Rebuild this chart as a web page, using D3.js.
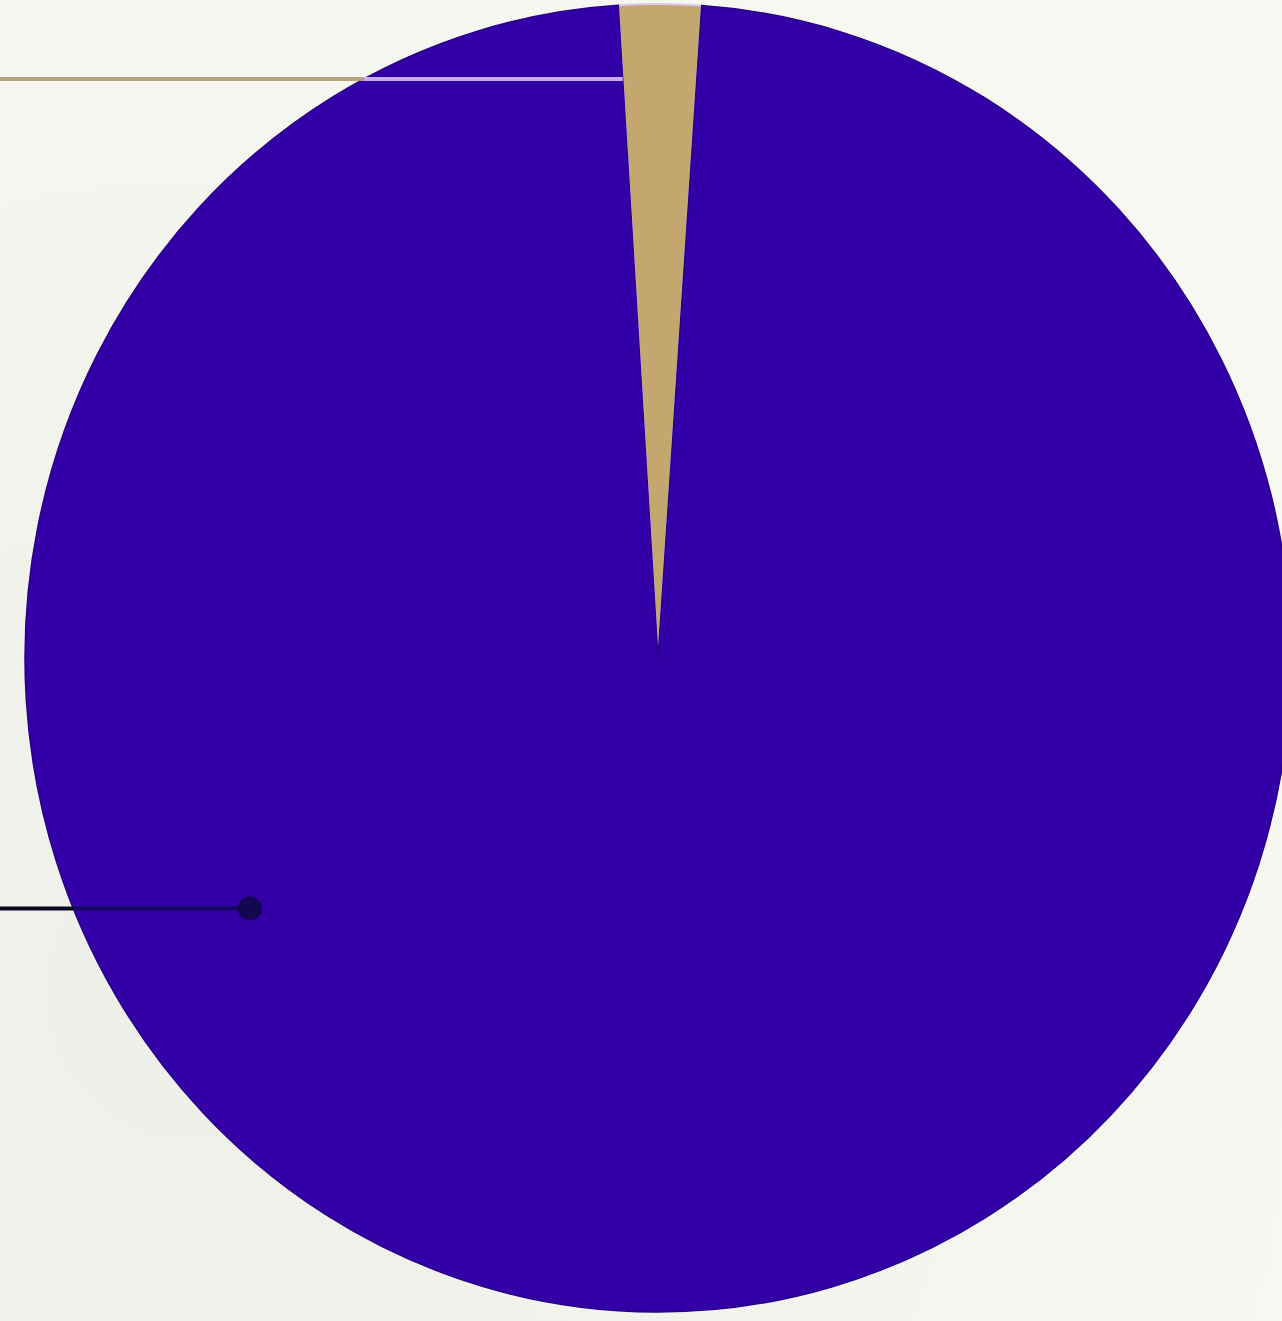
<!DOCTYPE html>
<html>
<head>
<meta charset="utf-8">
<script src="https://cdn.jsdelivr.net/npm/d3@7"></script>
<style>
  html, body { margin: 0; padding: 0; background: #f5f5ee; }
  svg { display: block; }
</style>
</head>
<body>
<svg id="chart" width="1282" height="1321"></svg>
<script>
// ---- data ----
const categories = ["Minor share", "Major share"];
const values = [2.1, 97.9];
const colors = ["#c4a66f", "#3300a8"];

// ---- layout ----
const W = 1282, H = 1321;
const cx = 658, cy = 658;
const rx = 633, ry = 654;
const startDeg = -3.6;

const svg = d3.select("#chart");

// background with subtle marble-like gradient
const defs = svg.append("defs");
const bg = defs.append("radialGradient").attr("id", "bg").attr("cx", "15%").attr("cy", "75%").attr("r", "90%");
bg.append("stop").attr("offset", "0%").attr("stop-color", "#efefe9");
bg.append("stop").attr("offset", "100%").attr("stop-color", "#f8f8f2");
svg.append("rect").attr("width", W).attr("height", H).attr("fill", "url(#bg)");

const pie = d3.pie().sort(null).value(d => d)
  .startAngle(startDeg * Math.PI / 180)
  .endAngle(startDeg * Math.PI / 180 + 2 * Math.PI);
const arcs = pie(values);
const arc = d3.arc().innerRadius(0).outerRadius(rx);

const g = svg.append("g").attr("transform", `translate(${cx},${cy}) scale(1,${ry / rx})`);

g.selectAll("path.slice")
  .data(arcs)
  .join("path")
  .attr("class", "slice")
  .attr("d", arc)
  .attr("fill", (d, i) => colors[i])
  .attr("stroke", (d, i) => i === 0 ? "#dcc8ea" : "#2a0088")
  .attr("stroke-width", (d, i) => i === 0 ? 2 : 1.5)
  .attr("vector-effect", "non-scaling-stroke");

// helper: screen x of ellipse edge at a given screen y (left side)
function edgeLeftX(y) {
  const t = (y - cy) / ry;
  return cx - rx * Math.sqrt(Math.max(0, 1 - t * t));
}

// ---- leader for the small slice ----
const tanY = 79;
const a0 = arcs[0].startAngle;
const rTan = (cy - tanY) / (Math.cos(a0) * (ry / rx));
const tanEndX = cx + rTan * Math.sin(a0);
const tanEdge = edgeLeftX(tanY);
svg.append("line")
  .attr("x1", 0).attr("x2", tanEdge).attr("y1", tanY).attr("y2", tanY)
  .attr("stroke", "#b3a47c").attr("stroke-width", 4);
svg.append("line")
  .attr("x1", tanEdge).attr("x2", tanEndX).attr("y1", tanY).attr("y2", tanY)
  .attr("stroke", "#c9aee6").attr("stroke-width", 4);

// ---- leader for the large slice ----
const anchorAngle = -120.7 * Math.PI / 180;
const anchorR = 0.75 * rx;
const dotX = cx + anchorR * Math.sin(anchorAngle);
const dotY = cy - anchorR * Math.cos(anchorAngle) * (ry / rx);
const darkEdge = edgeLeftX(dotY);
svg.append("line")
  .attr("x1", 0).attr("x2", darkEdge).attr("y1", dotY).attr("y2", dotY)
  .attr("stroke", "#0c0a20").attr("stroke-width", 4);
svg.append("line")
  .attr("x1", darkEdge).attr("x2", dotX).attr("y1", dotY).attr("y2", dotY)
  .attr("stroke", "#170760").attr("stroke-width", 4);
svg.append("circle")
  .attr("cx", dotX).attr("cy", dotY).attr("r", 12)
  .attr("fill", "#140752");
</script>
</body>
</html>
